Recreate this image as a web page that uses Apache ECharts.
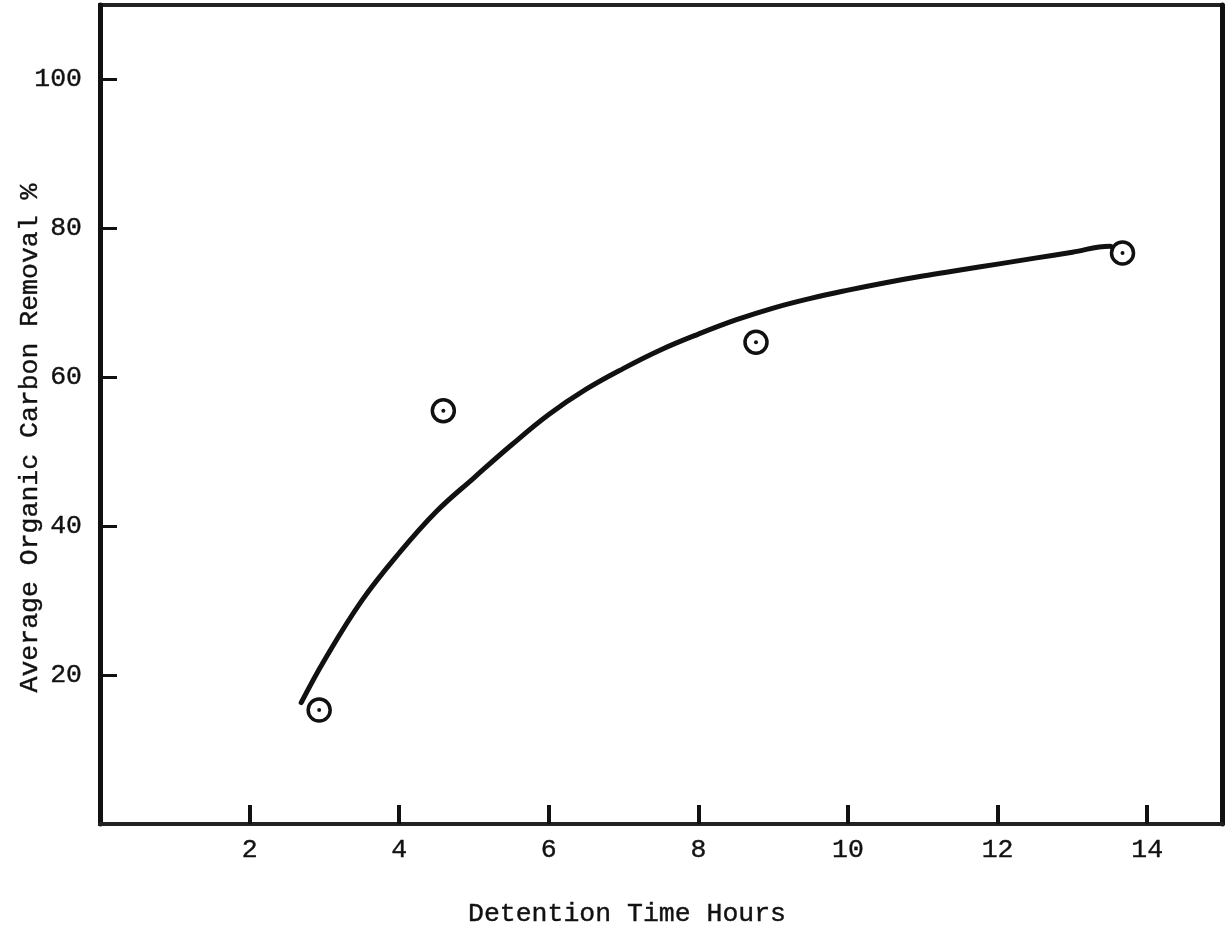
<!DOCTYPE html>
<html>
<head>
<meta charset="utf-8">
<title>Average Organic Carbon Removal vs Detention Time</title>
<script src="https://cdn.jsdelivr.net/npm/echarts@6/dist/echarts.min.js"></script>
<style>
  html, body { margin: 0; padding: 0; background: #ffffff; }
  #chart { width: 1226px; height: 934px; }
</style>
</head>
<body>
<div id="chart"></div>
<script>
// Measured removal at each detention time
const detentionHours = [2.93, 4.59, 8.77, 13.67];
const carbonRemoval = [15.3, 55.5, 64.7, 76.7];

// Hand-fitted trend curve (ends with a small hook at the last point)
const curveHours = [2.69, 3.0, 3.5, 4.0, 4.5, 5.0, 5.5, 6.0, 6.5, 7.0, 7.5, 8.0, 8.5, 9.0, 9.5, 10.0, 10.5, 11.0, 11.5, 12.0, 12.5, 13.0, 13.5, 13.56];
const curveRemoval = [16.3, 22.0, 30.0, 36.4, 42.0, 46.5, 50.9, 55.0, 58.4, 61.2, 63.7, 65.8, 67.7, 69.3, 70.6, 71.7, 72.7, 73.6, 74.4, 75.2, 76.0, 76.8, 77.6, 77.2];

// Axis tick positions
const xTicks = [2, 4, 6, 8, 10, 12, 14];
const yTicks = [20, 40, 60, 80, 100];

const xTitle = 'Detention Time Hours';
const yTitle = 'Average Organic Carbon Removal %';

const ink = '#111111';
const typeFont = '"Liberation Mono", "DejaVu Sans Mono", monospace';
const typeSize = 26.5;
// a thin outline in the ink colour thickens the typewriter strokes a little
const inkText = { color: ink, fontFamily: typeFont, fontSize: typeSize, textBorderColor: ink, textBorderWidth: 0.4 };

const pairs = (xs, ys) => xs.map((x, i) => [x, ys[i]]);

const chart = echarts.init(document.getElementById('chart'), null, { renderer: 'canvas' });

chart.setOption({
  backgroundColor: '#ffffff',
  animation: false,
  grid: {
    left: 100,
    right: 4,
    top: 5,
    bottom: 110,
    show: true,
    borderColor: '#222222',
    borderWidth: 4,
    backgroundColor: 'transparent'
  },
  xAxis: {
    type: 'value',
    min: 0,
    max: 15,
    axisLine: { show: true, onZero: false, lineStyle: { color: '#222222', width: 4 } },
    axisTick: {
      show: true,
      inside: true,
      length: 19,
      customValues: xTicks,
      lineStyle: { color: ink, width: 4 }
    },
    axisLabel: Object.assign({ show: true, customValues: xTicks, margin: 12 }, inkText),
    splitLine: { show: false }
  },
  yAxis: [
    {
      type: 'value',
      min: 0,
      max: 110,
      position: 'left',
      axisLine: { show: true, onZero: false, lineStyle: { color: ink, width: 5 } },
      axisTick: {
        show: true,
        inside: true,
        length: 17,
        customValues: yTicks,
        lineStyle: { color: ink, width: 3 }
      },
      axisLabel: Object.assign({ show: true, customValues: yTicks, margin: 18, padding: [0, 0, 8, 0] }, inkText),
      splitLine: { show: false }
    },
    {
      type: 'value',
      min: 0,
      max: 110,
      position: 'right',
      axisLine: { show: true, onZero: false, lineStyle: { color: ink, width: 5 } },
      axisTick: { show: false },
      axisLabel: { show: false },
      splitLine: { show: false }
    }
  ],
  graphic: [
    {
      type: 'text',
      x: 627,
      y: 914,
      style: {
        text: xTitle,
        fill: ink,
        stroke: ink,
        lineWidth: 0.4,
        font: typeSize + 'px ' + typeFont,
        textAlign: 'center',
        textVerticalAlign: 'middle'
      }
    },
    {
      type: 'text',
      x: 30,
      y: 438,
      rotation: Math.PI / 2,
      style: {
        text: yTitle,
        fill: ink,
        stroke: ink,
        lineWidth: 0.4,
        font: typeSize + 'px ' + typeFont,
        textAlign: 'center',
        textVerticalAlign: 'middle'
      }
    }
  ],
  series: [
    {
      name: 'Trend',
      type: 'line',
      data: pairs(curveHours, curveRemoval),
      smooth: 0.4,
      showSymbol: false,
      symbol: 'none',
      lineStyle: { color: ink, width: 5, cap: 'round', join: 'round' },
      z: 2
    },
    {
      name: 'Measured',
      type: 'scatter',
      data: pairs(detentionHours, carbonRemoval),
      symbol: 'circle',
      symbolSize: 22,
      itemStyle: { color: '#ffffff', borderColor: ink, borderWidth: 3.5, opacity: 1 },
      z: 3
    },
    {
      name: 'Measured centre',
      type: 'scatter',
      data: pairs(detentionHours, carbonRemoval),
      symbol: 'circle',
      symbolSize: 4,
      itemStyle: { color: ink, opacity: 1 },
      z: 4
    }
  ]
});
</script>
</body>
</html>
